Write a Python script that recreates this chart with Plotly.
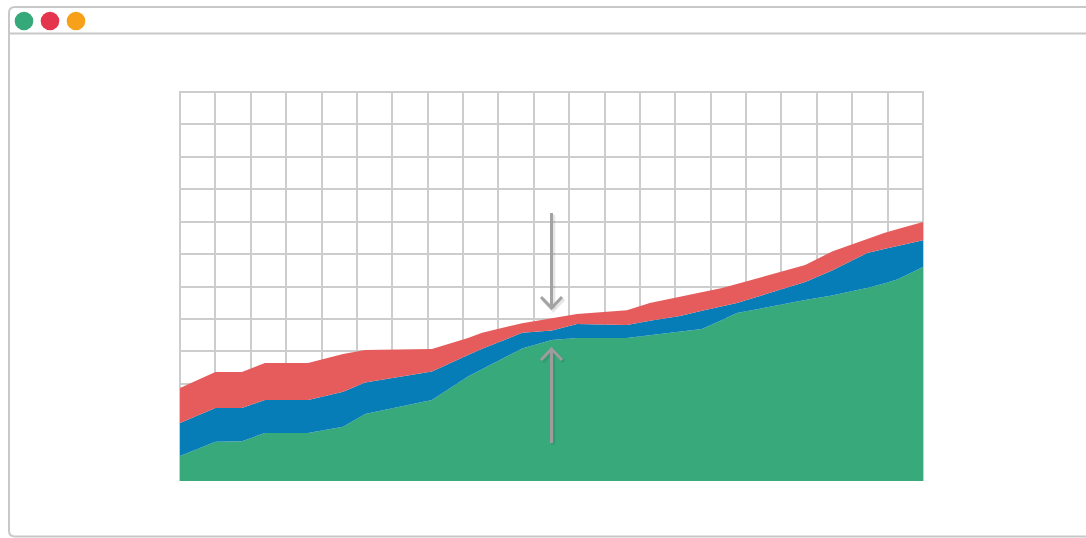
import plotly.graph_objects as go

# ---- data (x in grid units, y in grid units) ----
x_pos = [0, 1.0, 1.75, 2.40, 3.62, 4.61, 5.23, 7.12, 8.14, 8.54, 9.67, 10.51, 11.22,
         12.63, 13.28, 14.13, 14.75, 15.32, 15.74, 17.67, 18.43, 19.08, 19.42, 19.90,
         20.29, 21.0]
green = [0.77, 1.21, 1.23, 1.48, 1.48, 1.67, 2.07, 2.50, 3.22, 3.45, 4.09, 4.35, 4.41,
         4.41, 4.49, 4.60, 4.69, 4.97, 5.18, 5.58, 5.72, 5.88, 5.95, 6.09, 6.22, 6.60]
blue = [1.02, 1.04, 1.02, 1.02, 1.02, 1.08, 0.97, 0.88, 0.67, 0.63, 0.48, 0.29, 0.43,
        0.40, 0.45, 0.49, 0.56, 0.43, 0.31, 0.56, 0.77, 0.97, 1.08, 1.07, 1.03, 0.83]
red = [1.08, 1.11, 1.11, 1.14, 1.14, 1.17, 1.00, 0.69, 0.52, 0.49, 0.30, 0.38, 0.31,
       0.46, 0.55, 0.59, 0.57, 0.55, 0.59, 0.52, 0.59, 0.49, 0.44, 0.49, 0.52, 0.56]

GREEN = "#37a97b"
BLUE = "#077db7"
RED = "#e65b5b"
GRID = "#cdcdcd"

W, H = 1086, 538
L, R, T, B = 180, 923, 92, 481


def px(x, y):
    """pixel -> paper coords"""
    return (x - L) / (R - L), (B - y) / (B - T)


fig = go.Figure()
for name, vals, col in [("green", green, GREEN), ("blue", blue, BLUE), ("red", red, RED)]:
    fig.add_trace(go.Scatter(x=x_pos, y=vals, name=name, mode="lines",
                             stackgroup="one", line=dict(width=0, color=col),
                             fillcolor=col, hoverinfo="skip", showlegend=False))

shapes = []
# window frame
r = 6
fx0, fy0, fy1 = 9, 7, 536.5
p = lambda x, y: "%.5f,%.5f" % px(x, y)
path = ("M " + p(1095, fy0) + " L " + p(fx0 + r, fy0) + " Q " + p(fx0, fy0) + " " + p(fx0, fy0 + r)
        + " L " + p(fx0, fy1 - r) + " Q " + p(fx0, fy1) + " " + p(fx0 + r, fy1) + " L " + p(1095, fy1))
shapes.append(dict(type="path", xref="paper", yref="paper", path=path,
                   line=dict(color="#c8c8c8", width=2), layer="above"))
hx0, hy = px(fx0, 33.5)
hx1, _ = px(1095, 33.5)
shapes.append(dict(type="line", xref="paper", yref="paper", x0=hx0, x1=hx1, y0=hy, y1=hy,
                   line=dict(color="#c8c8c8", width=2)))
# window dots
for cx, col in [(24, "#35a979"), (50, "#e5354c"), (76, "#f7a11a")]:
    a0, b0 = px(cx - 9.3, 21 + 9.3)
    a1, b1 = px(cx + 9.3, 21 - 9.3)
    shapes.append(dict(type="circle", xref="paper", yref="paper", x0=a0, x1=a1, y0=b1, y1=b0,
                       fillcolor=col, line=dict(width=0)))

# plot-area border (top, left, right) drawn beneath the areas
shapes.append(dict(type="path", xref="paper", yref="paper", layer="below",
                   path="M 0,0 L 0,1 L 1,1 L 1,0",
                   line=dict(color=GRID, width=2)))


# arrows
def arrow(xs, ys, col, width=3):
    d = "M " + " L ".join(p(a, b) for a, b in zip(xs, ys))
    return dict(type="path", xref="paper", yref="paper", path=d,
                line=dict(color=col, width=width), layer="above")


ax = 551.5
for off, col, w in [(1.8, "rgba(0,0,0,0.10)", 4), (0, "#a3a3a3", 3)]:
    shapes.append(arrow([ax + off, ax + off], [213 + off, 307 + off], col, w))
    shapes.append(arrow([541 + off, ax + off, 562 + off], [297 + off, 308 + off, 297 + off], col, w))
for off, col, w in [(1.8, "rgba(0,0,0,0.08)", 4), (0, "#9d9d9d", 3)]:
    shapes.append(arrow([ax + off, ax + off], [443 + off, 350 + off], col, w))
    shapes.append(arrow([541 + off, ax + off, 562 + off], [360 + off, 349 + off, 360 + off], col, w))

axis_common = dict(showticklabels=False, ticks="", zeroline=False, showgrid=True,
                   gridcolor=GRID, gridwidth=2, showline=False, fixedrange=True)
fig.update_layout(
    width=W, height=H,
    margin=dict(l=L, r=W - R, t=T, b=H - B, pad=0),
    paper_bgcolor="white", plot_bgcolor="white",
    xaxis=dict(range=[0, 21], dtick=1, tick0=0, **axis_common),
    yaxis=dict(range=[0, 12], dtick=1, tick0=0, **axis_common),
    shapes=shapes,
    showlegend=False,
)
fig.write_html("out.html", config={"displayModeBar": False})
